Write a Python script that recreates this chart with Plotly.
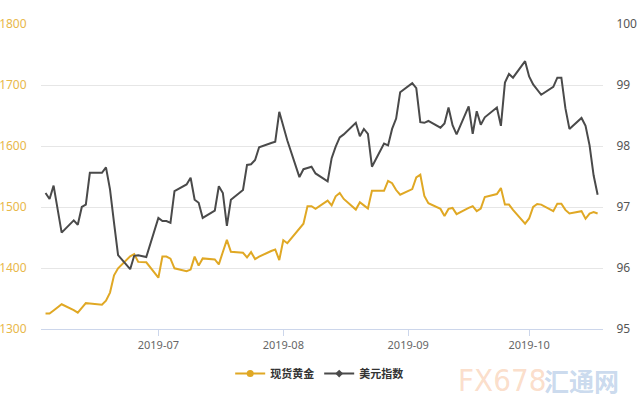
import pandas as pd
import plotly.graph_objects as go

# ---- data ----
dates = pd.bdate_range("2019-06-03", "2019-10-18")

gold = [
    1325.3, 1325.3, 1330.4, 1335.4, 1340.6, 1330.8, 1326.8, 1334.6, 1342.4, 1341.9,
    1339.8, 1346.4, 1359.7, 1388.1, 1399.5, 1419.0, 1422.7, 1410.0, 1409.3, 1409.3,
    1384.1, 1418.7, 1418.7, 1415.4, 1399.5, 1394.6, 1397.4, 1418.7, 1403.9, 1415.7,
    1414.1, 1406.0, 1426.3, 1446.1, 1426.6, 1425.0, 1417.4, 1426.0, 1414.6, 1418.5,
    1427.9, 1430.4, 1413.0, 1445.5, 1440.6, 1466.1, 1472.6, 1501.3, 1501.3, 1496.9,
    1510.4, 1502.6, 1517.5, 1522.9, 1513.2, 1495.8, 1507.8, 1502.6, 1497.4, 1526.6,
    1526.6, 1542.9, 1539.1, 1527.8, 1520.1, 1529.4, 1548.4, 1552.9, 1518.0, 1506.2,
    1496.9, 1485.1, 1496.9, 1498.5, 1488.3, 1498.5, 1501.3, 1493.2, 1497.4, 1516.4,
    1521.3, 1531.0, 1503.9, 1503.9, 1495.3, 1472.6, 1481.2, 1500.2, 1505.0, 1503.9,
    1493.2, 1505.5, 1505.5, 1495.3, 1489.3, 1493.2, 1480.7, 1489.3, 1491.6, 1489.3,
]

usd = [
    97.23, 97.13, 97.35, 96.97, 96.58, 96.78, 96.71, 97.00, 97.04, 97.56,
    97.56, 97.65, 97.29, 96.74, 96.21, 95.98, 96.20, 96.21, 96.20, 96.18,
    96.82, 96.77, 96.77, 96.74, 97.26, 97.37, 97.48, 97.12, 97.07, 96.82,
    96.94, 97.34, 97.23, 96.69, 97.12, 97.28, 97.69, 97.70, 97.77, 97.98,
    98.05, 98.07, 98.56, 98.34, 98.09, 97.49, 97.62, 97.64, 97.66, 97.55,
    97.42, 97.80, 97.99, 98.14, 98.19, 98.38, 98.16, 98.28, 98.20, 97.66,
    98.04, 98.01, 98.28, 98.45, 98.88, 99.03, 98.95, 98.39, 98.38, 98.41,
    98.30, 98.37, 98.63, 98.34, 98.19, 98.65, 98.20, 98.57, 98.35, 98.47,
    98.63, 98.33, 99.04, 99.18, 99.12, 99.39, 99.14, 99.01, 98.92, 98.84,
    98.97, 99.12, 99.12, 98.62, 98.28, 98.46, 98.33, 98.01, 97.52, 97.20,
]

gold_ticks = [1300, 1400, 1500, 1600, 1700, 1800]
usd_ticks = [95, 96, 97, 98, 99, 100]
names = ["现货黄金", "美元指数"]

GOLD = "#e0a824"
DARK = "#4a4a4a"
FONT = "Noto Sans, Noto Sans CJK SC, sans-serif"

fig = go.Figure()
fig.add_trace(go.Scatter(x=dates, y=gold, mode="lines", line=dict(color=GOLD, width=2),
                         name=names[0], showlegend=False, yaxis="y"))
fig.add_trace(go.Scatter(x=dates, y=usd, mode="lines", line=dict(color=DARK, width=2),
                         name=names[1], showlegend=False, yaxis="y2"))
# legend entries
fig.add_trace(go.Scatter(x=[None], y=[None], mode="lines+markers", name=names[0],
                         line=dict(color=GOLD, width=2), marker=dict(color=GOLD, size=7)))
fig.add_trace(go.Scatter(x=[None], y=[None], mode="lines+markers", name=names[1],
                         line=dict(color=DARK, width=2), marker=dict(color=DARK, size=6, symbol="diamond"),
                         yaxis="y2"))

fig.update_layout(
    width=640, height=400,
    margin=dict(l=41, r=37, t=24, b=68),
    paper_bgcolor="white", plot_bgcolor="white",
    font=dict(family=FONT, size=11, color="#666"),
    xaxis=dict(
        type="date", automargin=False,
        range=["2019-06-01 21:00", "2019-10-19 08:00"],
        dtick="M1", tick0="2019-06-01", tickformat="%Y-%m",
        showgrid=False, showline=True, linecolor="#ccd6eb", linewidth=1,
        ticks="outside", ticklen=6, tickcolor="#ccd6eb",
        tickfont=dict(size=11, color="#666"),
        zeroline=False,
    ),
    yaxis=dict(
        range=[1300, 1800], tickvals=gold_ticks, automargin=False,
        showgrid=True, gridcolor="#e6e6e6", gridwidth=1,
        zeroline=False, showline=False,
        ticks="outside", ticklen=11, tickcolor="rgba(0,0,0,0)",
        tickfont=dict(size=12, color="#e8b84a"),
    ),
    yaxis2=dict(
        range=[95, 100], tickvals=usd_ticks, automargin=False,
        overlaying="y", side="right",
        showgrid=False, zeroline=False, showline=False,
        ticks="outside", ticklen=10, tickcolor="rgba(0,0,0,0)",
        tickfont=dict(size=12, color="#555"),
    ),
    legend=dict(
        orientation="h", x=0.495, xanchor="center", y=-0.146, yanchor="middle",
        font=dict(size=11, color="#333", family="Noto Sans CJK SC, sans-serif", weight="bold"),
        itemwidth=30,
    ),
    annotations=[
        dict(text="FX678", xref="paper", yref="paper", x=0.738, y=-0.166, xanchor="left",
             yanchor="middle", showarrow=False,
             font=dict(size=31, color="rgba(245,170,120,0.4)",
                       family="Liberation Sans Narrow, DejaVu Sans Condensed, Roboto")),
        dict(text="汇通网", xref="paper", yref="paper", x=0.892, y=-0.166, xanchor="left",
             yanchor="middle", showarrow=False,
             font=dict(size=25, color="rgba(120,160,210,0.4)", family="Noto Sans CJK SC", weight="bold")),
    ],
)

fig.write_html("out.html", config={"displayModeBar": False},
               post_script="document.body.style.margin='0';")
